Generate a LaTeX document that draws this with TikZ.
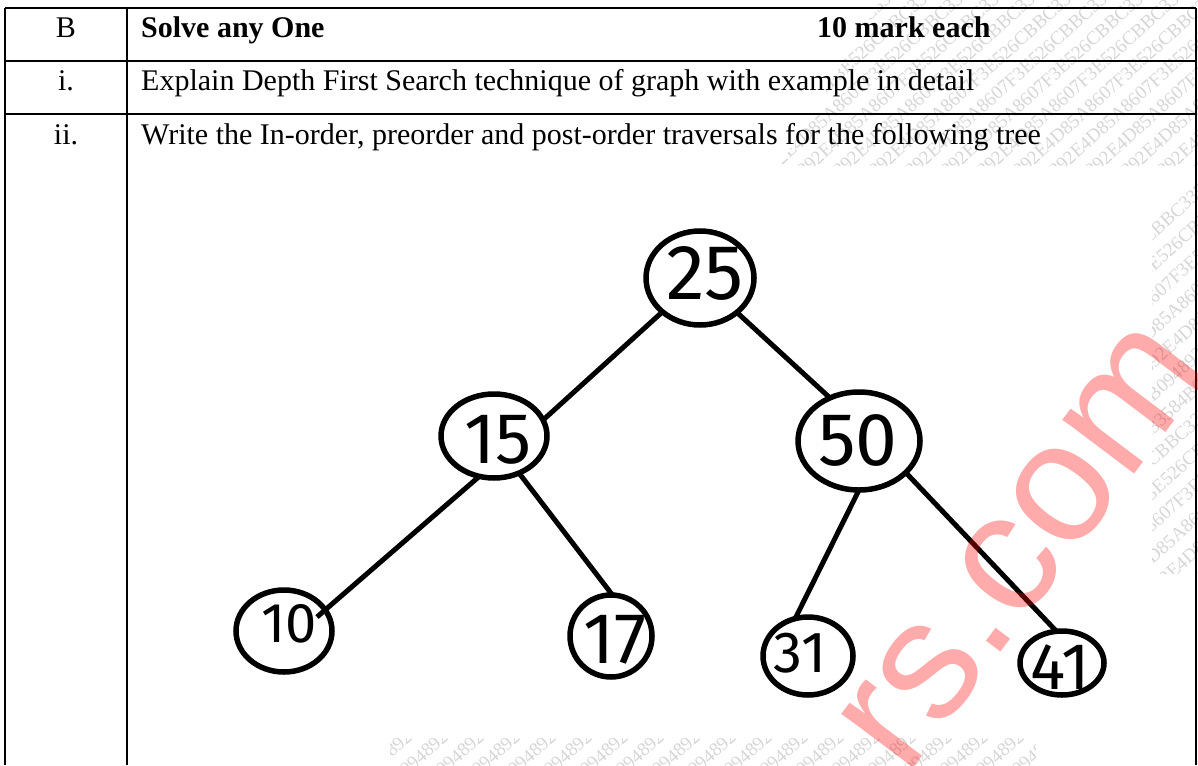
\documentclass[tikz,border=0pt]{standalone}
\usepackage{fontspec}
\setmainfont{Liberation Serif}
\newfontfamily\handfont{Fira Sans}
\newfontfamily\stampfont{Liberation Sans}
\usetikzlibrary{shapes.geometric}

% repeated hex string of the faint background stamp
\newcommand\stamphex{584B094892E4D85A8607F3E526CBBC33584B094892E4D85A8607F3E526CBBC33584B094892E4D85A8607F3E526CBBC33}

\begin{document}
\begin{tikzpicture}[x=1pt,y=-1pt,
  rule/.style={line width=2pt},
  cell/.style={anchor=base west,inner sep=0pt,font=\fontsize{30}{34}\selectfont},
  idx/.style={anchor=base,inner sep=0pt,font=\fontsize{30}{34}\selectfont},
  vert/.style={ellipse,draw,line width=5.5pt,inner sep=0pt,outer sep=0pt},
  digits/.style={inner sep=0pt,font=\handfont\fontsize{#1}{#1}\selectfont},
  edge/.style={line width=5pt},
  hexline/.style={rotate=42,anchor=west,inner sep=0pt,text=black!16,
    font=\fontsize{19}{19}\selectfont}
]
\useasboundingbox (0,0) rectangle (1198,765);

% faint hex stamp in the background
\begin{scope}
  \clip (880,0) -- (1198,0) -- (1198,165) -- (780,165) -- cycle;
  \foreach \k in {0,...,22} \node[hexline] at (640+\k*36,220) {\stamphex};
\end{scope}
\begin{scope}
  \clip (1152,165) rectangle (1198,573);
  \foreach \k in {0,...,22} \node[hexline] at (700+\k*36,640) {\stamphex};
\end{scope}
\begin{scope}
  \clip (390,738) rectangle (1035,765);
  \foreach \k in {0,...,22} \node[hexline] at (300+\k*36,800) {\stamphex};
\end{scope}

% table rules
\draw[rule] (5,8) -- (1196,8);
\draw[rule] (5,61) -- (1196,61);
\draw[rule] (5,114) -- (1196,114);
\draw[rule] (5,8) -- (5,765);
\draw[rule] (127,8) -- (127,765);
\draw[rule] (1196,8) -- (1196,765);

% table text
\node[idx] (hB) at (66,38) {B};
\node[cell] (hSolve) at (141,38) {\bfseries Solve any One};
\node[cell] (hMarks) at (817,38) {\bfseries 10 mark each};
\node[idx] (q1) at (66,91) {i.};
\node[cell] (t1) at (141,91) {Explain Depth First Search technique of graph with example in detail};
\node[idx] (q2) at (66,144) {ii.};
\node[cell] (t2) at (141,144) {Write the In-order, preorder and post-order traversals for the following tree};

% tree vertices
\node[vert,minimum width=108,minimum height=94] (v25) at (700,278) {};
\node[vert,minimum width=106,minimum height=84] (v15) at (494,436) {};
\node[vert,minimum width=122,minimum height=98] (v50) at (859,441) {};
\node[vert,minimum width=96,minimum height=82] (v10) at (284,631) {};
\node[vert,minimum width=82,minimum height=82] (v17) at (611,636) {};
\node[vert,minimum width=90,minimum height=78] (v31) at (808,656) {};
\node[vert,minimum width=84,minimum height=64] (v41) at (1062,663) {};

\node[digits=78] (l25) at (705,273) {25};
\node[digits=72] (l15) at (498,440) {15};
\node[digits=75] (l50) at (858,440) {50};
\node[digits=56] (l10) at (289,624) {10};
\node[digits=72] (l17) at (615,640) {17};
\node[digits=58] (l31) at (800,653) {31};
\node[digits=66] (l41) at (1060,667) {41};

% tree edges
\draw[edge] (v25.222) -- (v15.18);
\draw[edge] (v25.317) -- (v50.124);
\draw[edge] (v15.250) -- ([shift={(33,-14)}]v10.center);
\draw[edge] (v15.304) -- (v17.88);
\draw[edge] (v50.270) -- (v31.109);
\draw[edge] (v50.326) -- (v41.100);

% red stamp on top
\node[rotate=53,anchor=base west,inner sep=0pt,text=red,text opacity=0.33,
  font=\stampfont\fontsize{170}{170}\selectfont] (stamp) at (906,778) {rs.com};
\end{tikzpicture}
\end{document}
